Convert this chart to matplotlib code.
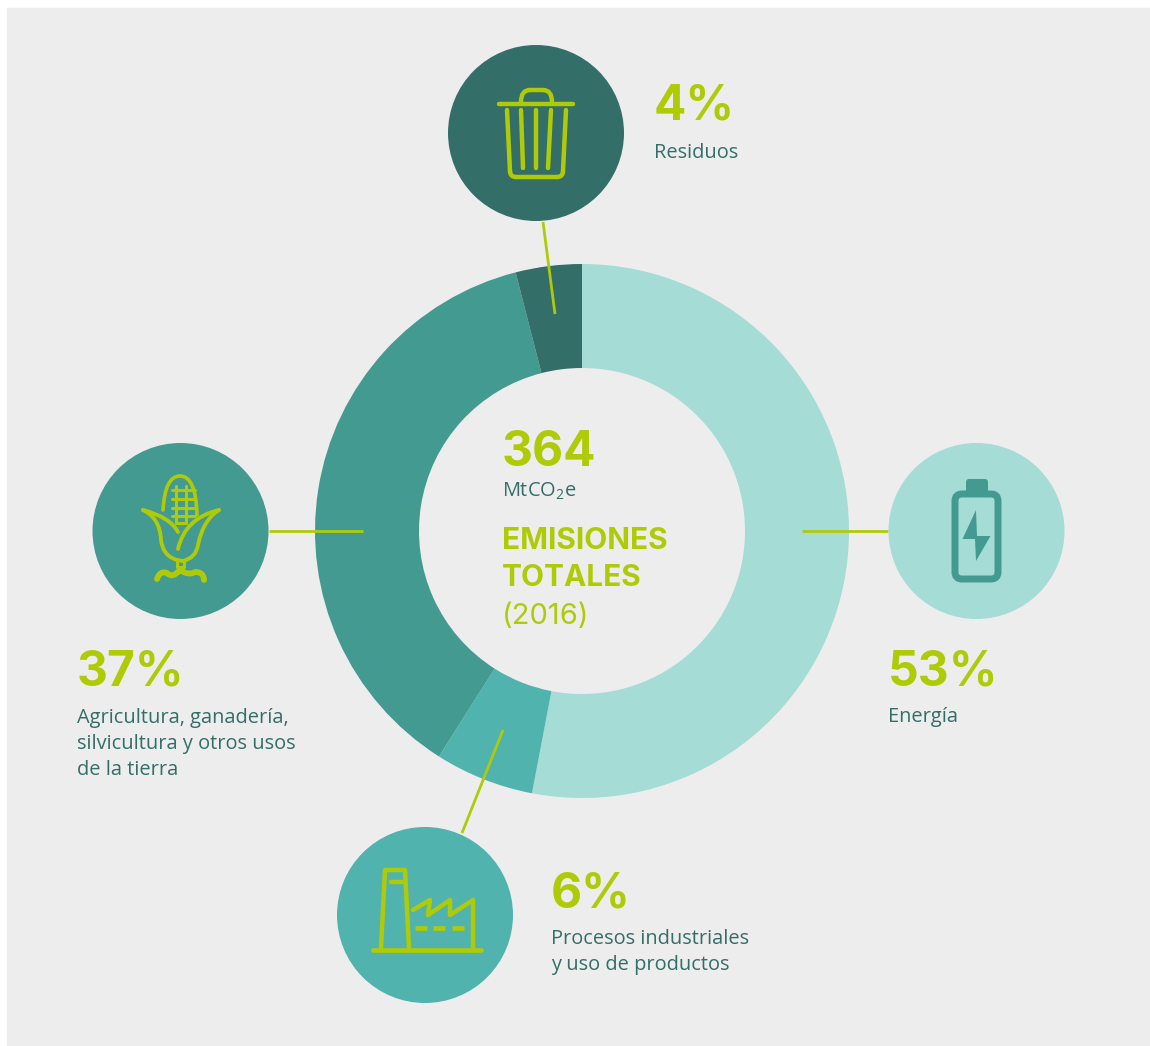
#!/usr/bin/env python3

import matplotlib
matplotlib.use('Agg')
import matplotlib.pyplot as plt
from matplotlib.patches import Circle, FancyBboxPatch, PathPatch, Polygon, Rectangle
from matplotlib.path import Path

# emissions by sector, clockwise from the top
sectors = ['Energía', 'Procesos industriales\ny uso de productos',
           'Agricultura, ganadería,\nsilvicultura y otros usos\nde la tierra', 'Residuos']
shares = [53, 6, 37, 4]
total = 364
year = 2016

BG = '#ededed'
LIME = '#afcb08'
TEXT = '#346e68'
colors = ['#a6dcd6', '#50b3ae', '#439a90', '#346e68']

plt.rcParams['font.family'] = ['Open Sans', 'DejaVu Sans']
plt.rcParams['mathtext.default'] = 'regular'

fig = plt.figure(figsize = (11.5, 10.46), dpi = 100, facecolor = 'white')
ax = fig.add_axes([0, 0, 1, 1])

# the ring; y grows downwards here, so theta runs clockwise on screen
ax.pie(shares, colors = colors, startangle = -90, counterclock = True, radius = 267,
       center = (582, 531), frame = True, wedgeprops = dict(width = 104, linewidth = 0))
ax.set_xlim(0, 1150)
ax.set_ylim(1046, 0)
ax.set_aspect('auto')
ax.axis('off')
ax.add_patch(Rectangle((7, 8), 1143, 1038, color = BG, zorder = 0))


def stroke(pts, color = LIME, lw = 3.2, z = 6, cap = 'round'):
    ax.plot([p[0] for p in pts], [p[1] for p in pts], color = color, lw = lw, zorder = z,
            solid_capstyle = cap, solid_joinstyle = 'round')


def curve(pts, color = LIME, lw = 3.2, z = 6):
    # chain of quadratic segments: start, ctrl, end, ctrl, end ...
    codes = [Path.MOVETO] + [Path.CURVE3] * (len(pts) - 1)
    ax.add_patch(PathPatch(Path(pts, codes), fill = False, edgecolor = color, lw = lw, zorder = z,
                           capstyle = 'round', joinstyle = 'round'))


# connectors between ring and circles
connectors = [((543, 222), (555, 314)), ((269, 531), (363, 531)),
              ((802, 531), (888, 531)), ((503, 730), (462, 833))]
for a, b in connectors:
    ax.plot([a[0], b[0]], [a[1], b[1]], color = LIME, lw = 2.0, zorder = 4, solid_capstyle = 'butt')

# icon discs
discs = {'waste': (536, 133), 'farm': (180.5, 531), 'energy': (976.5, 531), 'industry': (425, 915)}
ax.add_patch(Circle(discs['energy'], 88, color = colors[0], zorder = 5, lw = 0))
ax.add_patch(Circle(discs['industry'], 88, color = colors[1], zorder = 5, lw = 0))
ax.add_patch(Circle(discs['farm'], 88, color = colors[2], zorder = 5, lw = 0))
ax.add_patch(Circle(discs['waste'], 88, color = colors[3], zorder = 5, lw = 0))

# trash can
stroke([(499, 104), (573, 104)])
curve([(521, 102), (521, 90), (530, 90)])
stroke([(530, 90), (543, 90)])
curve([(543, 90), (552, 90), (552, 102)])
stroke([(507, 110), (510, 171)])
curve([(510, 171), (510, 177), (516, 177)])
stroke([(516, 177), (557, 177)])
curve([(557, 177), (563, 177), (563, 171)])
stroke([(563, 171), (566, 110)])
stroke([(521, 110), (523, 168)])
stroke([(536, 110), (536, 168)])
stroke([(551, 110), (548, 168)])

# corn cob
curve([(163, 510), (165, 476), (180, 476), (196, 476), (197, 515)], lw = 2.6)
for y in (490, 499, 508, 516):
    stroke([(172, y), (195, y)], lw = 2.2)
for x in (176, 186):
    stroke([(x, 486), (x, 523)], lw = 2.2)
stroke([(176, 523), (186, 523)], lw = 2.2)
curve([(143, 510), (170, 517), (178, 532)], lw = 2.8)
curve([(143, 510), (160, 518), (161, 540), (163, 556), (177, 560)], lw = 2.8)
curve([(219, 510), (185, 518), (178, 549)], lw = 2.8)
curve([(219, 510), (203, 520), (198, 545), (196, 558), (183, 561)], lw = 2.8)
stroke([(177, 560), (183, 561)], lw = 2.8)
stroke([(177, 561), (177, 567), (184, 567), (184, 561)], lw = 2.2)
curve([(157, 579), (160, 570), (167, 573), (172, 579), (180, 570), (189, 576), (195, 572), (204, 572), (204, 580)], lw = 4.2)

# battery
ax.add_patch(FancyBboxPatch((955, 494), 43, 85, boxstyle = 'round,pad=0,rounding_size=7', fill = False,
                            edgecolor = colors[2], lw = 5, zorder = 6))
ax.add_patch(FancyBboxPatch((966, 479), 22, 14, boxstyle = 'round,pad=0,rounding_size=3',
                            color = colors[2], lw = 0, zorder = 6))
ax.add_patch(Polygon([(976, 510), (962.5, 539), (975, 539), (976, 561), (990.5, 536), (977, 536)],
                     color = colors[2], lw = 0, zorder = 6))

# factory
stroke([(373, 950), (481, 950)], lw = 3.4)
stroke([(381, 948), (385, 870), (405, 870), (409, 948)])
stroke([(391, 882), (402, 882)])
stroke([(413, 910), (430, 900), (428, 915), (450, 900), (450, 915), (473, 900), (473, 948)])
for x0, x1 in ((415, 427), (433, 445), (452, 464)):
    stroke([(x0, 927.5), (x1, 927.5)], lw = 3.4, cap = 'butt')


def head(x, y, s, size = 34.5, color = LIME, weight = 'bold'):
    ax.text(x, y, s, fontsize = size, color = color, fontweight = weight, family = ['Inter', 'DejaVu Sans'],
            va = 'baseline', ha = 'left', zorder = 7)


def body(x, y, lines, step = 26):
    for i, line in enumerate(lines.split('\n')):
        ax.text(x, y + i * step, line, fontsize = 14.4, color = TEXT, va = 'baseline', ha = 'left', zorder = 7)


# sector labels, drawn from the shares
pos = [((888, 685), (888, 722)), ((551, 907), (551, 944)), ((77, 685), (77, 723)), ((654, 120), (654, 158))]
for share, name, (hp, bp) in zip(shares, sectors, pos):
    head(hp[0], hp[1], '%d%%' % share)
    body(bp[0], bp[1], name)

# centre of the ring
head(502, 466, str(total))
ax.text(502, 497, 'MtCO$_2$e', fontsize = 14.4, color = TEXT, va = 'baseline', ha = 'left', zorder = 7)
head(502, 549, 'EMISIONES', size = 21.5)
head(502, 586, 'TOTALES', size = 21.5)
head(502, 624, '(%d)' % year, size = 21, weight = 'normal')

fig.savefig('out.png', dpi = 100, facecolor = 'white')
